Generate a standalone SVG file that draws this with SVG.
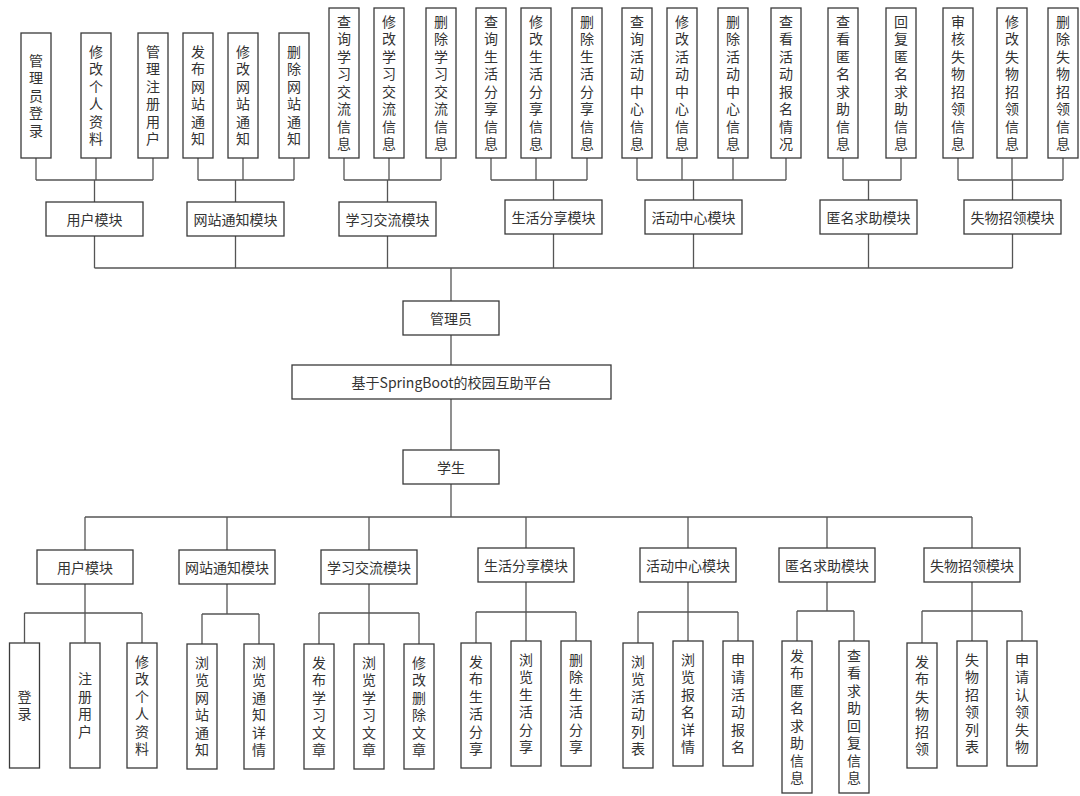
<svg xmlns="http://www.w3.org/2000/svg" width="1080" height="796" viewBox="0 0 1080 796">
<style>
.b{fill:#fff;stroke:#3a3a3a;stroke-width:1.3}
.t{font-family:"Noto Sans CJK SC","Noto Sans",sans-serif;font-size:14px;fill:#333;text-anchor:middle;dominant-baseline:central}
.v{font-family:"Noto Sans CJK SC","Noto Sans",sans-serif;font-size:14px;fill:#333;text-anchor:middle;writing-mode:vertical-rl;letter-spacing:3.5px}
.c{fill:none;stroke:#555;stroke-width:1.3}
</style>
<rect width="1080" height="796" fill="#fff"/>
<g id="connectors" class="c">
<path d="M36 158V180M96 158V180M153 158V180M36 180H153M94.5 180V202"/>
<path d="M198 158V180M243 158V180M294 158V180M198 180H294M235.5 180V202"/>
<path d="M344 158V180M389 158V180M441 158V180M344 180H441M387.5 180V202"/>
<path d="M491 158V180M536 158V180M587 158V180M491 180H587M553.5 180V200"/>
<path d="M637 158V180M682 158V180M733 158V180M786 158V180M637 180H786M693.5 180V200"/>
<path d="M843 158V180M901 158V180M843 180H901M868.5 180V200"/>
<path d="M958 158V180M1012 158V180M1063 158V180M958 180H1063M1012.5 180V200"/>
<path d="M94.5 236V268M235.5 236V268M387.5 236V268M553.5 234V268M693.5 234V268M868.5 234V268M1012.5 234V268M94.5 268H1012.5M451 268V301"/>
<path d="M451 335V365M451 399V450M451 484V517"/>
<path d="M85 517H972M85 517V550M227 517V550M369 517V550M526 517V548M688 517V548M827 517V548M972 517V548"/>
<path d="M85 584V613M24.5 613H142M24.5 613V643M85 613V643M142 613V643"/>
<path d="M227 584V614M202 614H259M202 614V644M259 614V644"/>
<path d="M369 584V613M319 613H419M319 613V644M369 613V644M419 613V644"/>
<path d="M526 582V612M476 612H576M476 612V643M526 612V641M576 612V641"/>
<path d="M688 582V612M638 612H738M638 612V643M688 612V641M738 612V641"/>
<path d="M827 582V611M797 611H854M797 611V641M854 611V641"/>
<path d="M972 582V611M922 611H1022M922 611V643M972 611V641M1022 611V641"/>
</g>

<g id="a-login"><rect class="b" x="21" y="33" width="30" height="125"/><text class="v" x="36" y="97">管理员登录</text></g>
<g id="a-profile"><rect class="b" x="81" y="33" width="30" height="125"/><text class="v" x="96" y="97">修改个人资料</text></g>
<g id="a-users"><rect class="b" x="138" y="33" width="30" height="125"/><text class="v" x="153" y="97">管理注册用户</text></g>
<g id="a-notice-add"><rect class="b" x="183" y="33" width="30" height="125"/><text class="v" x="198" y="97">发布网站通知</text></g>
<g id="a-notice-edit"><rect class="b" x="228" y="33" width="30" height="125"/><text class="v" x="243" y="97">修改网站通知</text></g>
<g id="a-notice-del"><rect class="b" x="279" y="33" width="30" height="125"/><text class="v" x="294" y="97">删除网站通知</text></g>
<g id="a-study-q"><rect class="b" x="329" y="8" width="30" height="150"/><text class="v" x="344" y="84.5">查询学习交流信息</text></g>
<g id="a-study-e"><rect class="b" x="374" y="8" width="30" height="150"/><text class="v" x="389" y="84.5">修改学习交流信息</text></g>
<g id="a-study-d"><rect class="b" x="426" y="8" width="30" height="150"/><text class="v" x="441" y="84.5">删除学习交流信息</text></g>
<g id="a-life-q"><rect class="b" x="476" y="8" width="30" height="150"/><text class="v" x="491" y="84.5">查询生活分享信息</text></g>
<g id="a-life-e"><rect class="b" x="521" y="8" width="30" height="150"/><text class="v" x="536" y="84.5">修改生活分享信息</text></g>
<g id="a-life-d"><rect class="b" x="572" y="8" width="30" height="150"/><text class="v" x="587" y="84.5">删除生活分享信息</text></g>
<g id="a-act-q"><rect class="b" x="622" y="8" width="30" height="150"/><text class="v" x="637" y="84.5">查询活动中心信息</text></g>
<g id="a-act-e"><rect class="b" x="667" y="8" width="30" height="150"/><text class="v" x="682" y="84.5">修改活动中心信息</text></g>
<g id="a-act-d"><rect class="b" x="718" y="8" width="30" height="150"/><text class="v" x="733" y="84.5">删除活动中心信息</text></g>
<g id="a-act-s"><rect class="b" x="771" y="8" width="30" height="150"/><text class="v" x="786" y="84.5">查看活动报名情况</text></g>
<g id="a-help-q"><rect class="b" x="828" y="8" width="30" height="150"/><text class="v" x="843" y="84.5">查看匿名求助信息</text></g>
<g id="a-help-r"><rect class="b" x="886" y="8" width="30" height="150"/><text class="v" x="901" y="84.5">回复匿名求助信息</text></g>
<g id="a-lost-a"><rect class="b" x="943" y="8" width="30" height="150"/><text class="v" x="958" y="84.5">审核失物招领信息</text></g>
<g id="a-lost-e"><rect class="b" x="997" y="8" width="30" height="150"/><text class="v" x="1012" y="84.5">修改失物招领信息</text></g>
<g id="a-lost-d"><rect class="b" x="1048" y="8" width="30" height="150"/><text class="v" x="1063" y="84.5">删除失物招领信息</text></g>

<g id="am-user"><rect class="b" x="46" y="202" width="97" height="34"/><text class="t" x="94.5" y="219">用户模块</text></g>
<g id="am-notice"><rect class="b" x="187" y="202" width="97" height="34"/><text class="t" x="235.5" y="219">网站通知模块</text></g>
<g id="am-study"><rect class="b" x="339" y="202" width="97" height="34"/><text class="t" x="387.5" y="219">学习交流模块</text></g>
<g id="am-life"><rect class="b" x="505" y="200" width="97" height="34"/><text class="t" x="553.5" y="217">生活分享模块</text></g>
<g id="am-act"><rect class="b" x="645" y="200" width="97" height="34"/><text class="t" x="693.5" y="217">活动中心模块</text></g>
<g id="am-help"><rect class="b" x="820" y="200" width="97" height="34"/><text class="t" x="868.5" y="217">匿名求助模块</text></g>
<g id="am-lost"><rect class="b" x="964" y="200" width="97" height="34"/><text class="t" x="1012.5" y="217">失物招领模块</text></g>

<g id="admin"><rect class="b" x="403" y="301" width="96" height="34"/><text class="t" x="451" y="318">管理员</text></g>
<g id="platform"><rect class="b" x="292" y="365" width="319" height="34"/><text class="t" x="451.5" y="382">基于SpringBoot的校园互助平台</text></g>
<g id="student"><rect class="b" x="403" y="450" width="96" height="34"/><text class="t" x="451" y="467">学生</text></g>

<g id="sm-user"><rect class="b" x="37" y="550" width="96" height="34"/><text class="t" x="85" y="567">用户模块</text></g>
<g id="sm-notice"><rect class="b" x="179" y="550" width="96" height="34"/><text class="t" x="227" y="567">网站通知模块</text></g>
<g id="sm-study"><rect class="b" x="321" y="550" width="96" height="34"/><text class="t" x="369" y="567">学习交流模块</text></g>
<g id="sm-life"><rect class="b" x="478" y="548" width="96" height="34"/><text class="t" x="526" y="565">生活分享模块</text></g>
<g id="sm-act"><rect class="b" x="640" y="548" width="96" height="34"/><text class="t" x="688" y="565">活动中心模块</text></g>
<g id="sm-help"><rect class="b" x="779" y="548" width="96" height="34"/><text class="t" x="827" y="565">匿名求助模块</text></g>
<g id="sm-lost"><rect class="b" x="924" y="548" width="96" height="34"/><text class="t" x="972" y="565">失物招领模块</text></g>

<g id="s-login"><rect class="b" x="9.5" y="643" width="30" height="125"/><text class="v" x="24.5" y="707">登录</text></g>
<g id="s-reg"><rect class="b" x="70" y="643" width="30" height="125"/><text class="v" x="85" y="707">注册用户</text></g>
<g id="s-profile"><rect class="b" x="127" y="643" width="30" height="125"/><text class="v" x="142" y="707">修改个人资料</text></g>
<g id="s-notice-b"><rect class="b" x="187" y="644" width="30" height="125"/><text class="v" x="202" y="708">浏览网站通知</text></g>
<g id="s-notice-d"><rect class="b" x="244" y="644" width="30" height="125"/><text class="v" x="259" y="708">浏览通知详情</text></g>
<g id="s-study-p"><rect class="b" x="304" y="644" width="30" height="125"/><text class="v" x="319" y="708">发布学习文章</text></g>
<g id="s-study-b"><rect class="b" x="354" y="644" width="30" height="125"/><text class="v" x="369" y="708">浏览学习文章</text></g>
<g id="s-study-e"><rect class="b" x="404" y="644" width="30" height="125"/><text class="v" x="419" y="708">修改删除文章</text></g>
<g id="s-life-p"><rect class="b" x="461" y="643" width="30" height="125"/><text class="v" x="476" y="707">发布生活分享</text></g>
<g id="s-life-b"><rect class="b" x="511" y="641" width="30" height="125"/><text class="v" x="526" y="705">浏览生活分享</text></g>
<g id="s-life-d"><rect class="b" x="561" y="641" width="30" height="125"/><text class="v" x="576" y="705">删除生活分享</text></g>
<g id="s-act-l"><rect class="b" x="623" y="643" width="30" height="125"/><text class="v" x="638" y="707">浏览活动列表</text></g>
<g id="s-act-d"><rect class="b" x="673" y="641" width="30" height="125"/><text class="v" x="688" y="705">浏览报名详情</text></g>
<g id="s-act-a"><rect class="b" x="723" y="641" width="30" height="125"/><text class="v" x="738" y="705">申请活动报名</text></g>
<g id="s-help-p"><rect class="b" x="782" y="641" width="30" height="152"/><text class="v" x="797" y="718.5">发布匿名求助信息</text></g>
<g id="s-help-r"><rect class="b" x="839" y="641" width="30" height="152"/><text class="v" x="854" y="718.5">查看求助回复信息</text></g>
<g id="s-lost-p"><rect class="b" x="907" y="643" width="30" height="125"/><text class="v" x="922" y="707">发布失物招领</text></g>
<g id="s-lost-l"><rect class="b" x="957" y="641" width="30" height="125"/><text class="v" x="972" y="705">失物招领列表</text></g>
<g id="s-lost-c"><rect class="b" x="1007" y="641" width="30" height="125"/><text class="v" x="1022" y="705">申请认领失物</text></g>
</svg>
